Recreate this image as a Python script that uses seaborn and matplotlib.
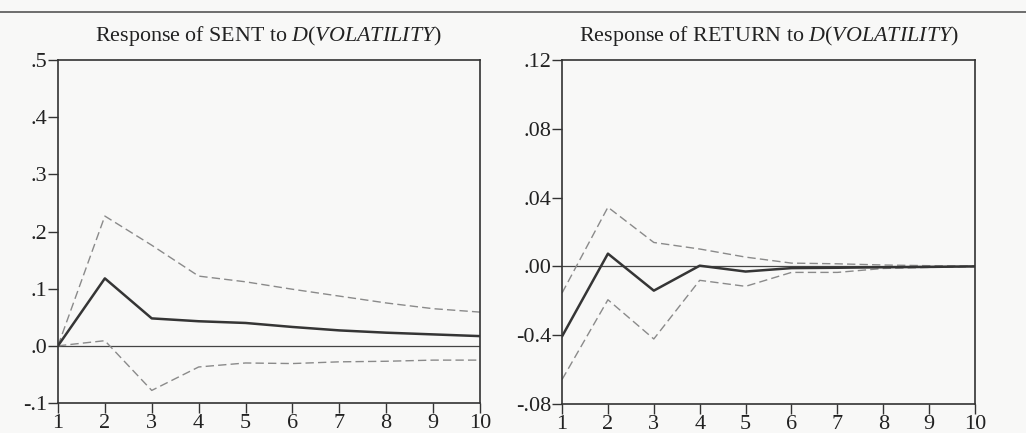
import numpy as np
import pandas as pd
import matplotlib
matplotlib.use("Agg")
import matplotlib.pyplot as plt
from matplotlib.lines import Line2D
import seaborn as sns

periods = list(range(1, 11))

sent_resp = [0.0, 0.118, 0.048, 0.043, 0.040, 0.033, 0.027, 0.023, 0.020, 0.017]
sent_upper = [0.0, 0.227, 0.176, 0.122, 0.112, 0.099, 0.087, 0.075, 0.065, 0.059]
sent_lower = [0.0, 0.009, -0.078, -0.037, -0.030, -0.031, -0.028, -0.027, -0.025, -0.025]

ret_resp = [-0.0407, 0.0074, -0.0141, 0.0004, -0.0030, -0.0010, -0.0008, -0.0005, -0.0003, 0.0]
ret_upper = [-0.0155, 0.0344, 0.0139, 0.0101, 0.0054, 0.0019, 0.0015, 0.0008, 0.0004, 0.0002]
ret_lower = [-0.0658, -0.0194, -0.0422, -0.0081, -0.0116, -0.0035, -0.0035, -0.0012, -0.0006, -0.0002]

sent_yticks = [-0.1, 0.0, 0.1, 0.2, 0.3, 0.4, 0.5]
sent_ylabels = ["-.1", ".0", ".1", ".2", ".3", ".4", ".5"]
ret_yticks = [-0.08, -0.04, 0.0, 0.04, 0.08, 0.12]
ret_ylabels = ["-.08", "-0.4", ".00", ".04", ".08", ".12"]

titles = ["Response of SENT to $\\mathit{D(VOLATILITY)}$",
          "Response of RETURN to $\\mathit{D(VOLATILITY)}$"]

sns.set_theme(style="ticks")
plt.rcParams["font.family"] = ["Liberation Serif", "DejaVu Serif"]
plt.rcParams["mathtext.fontset"] = "custom"
plt.rcParams["mathtext.rm"] = "Liberation Serif"
plt.rcParams["mathtext.it"] = "Liberation Serif:italic"

bg = "#f8f8f7"
fig = plt.figure(figsize=(10.26, 4.33), dpi=100, facecolor=bg)

ax1 = fig.add_axes([0.0565, 0.0693, 0.4113, 0.7921])
ax2 = fig.add_axes([0.5478, 0.0670, 0.4025, 0.7945])

panels = [
    (ax1, sent_resp, sent_upper, sent_lower, sent_yticks, sent_ylabels, (-0.1, 0.5), titles[0]),
    (ax2, ret_resp, ret_upper, ret_lower, ret_yticks, ret_ylabels, (-0.08, 0.12), titles[1]),
]

for ax, resp, up, lo, yt, yl, ylim, title in panels:
    ax.set_facecolor(bg)
    df = pd.DataFrame({"period": periods, "resp": resp, "upper": up, "lower": lo})
    ax.axhline(0, color="#444444", lw=0.9, zorder=1)
    sns.lineplot(data=df, x="period", y="upper", ax=ax, color="#8a8a8a", lw=1.0,
                 linestyle=(0, (6, 3)), zorder=2)
    sns.lineplot(data=df, x="period", y="lower", ax=ax, color="#8a8a8a", lw=1.0,
                 linestyle=(0, (6, 3)), zorder=2)
    sns.lineplot(data=df, x="period", y="resp", ax=ax, color="#353535", lw=1.8, zorder=3)
    ax.set_xlim(1, 10)
    ax.set_ylim(*ylim)
    ax.set_xticks(periods)
    ax.set_xticklabels([str(p) for p in periods])
    ax.set_yticks(yt)
    ax.set_yticklabels(yl)
    ax.set_xlabel("")
    ax.set_ylabel("")
    ax.tick_params(axis="both", direction="out", length=7, width=1.0, color="#333333",
                   labelsize=16, labelcolor="#222222", pad=1)
    for s in ax.spines.values():
        s.set_visible(True)
        s.set_color("#333333")
        s.set_linewidth(1.2)
    ax.set_title(title, fontsize=15.8, color="#222222", pad=14)

fig.add_artist(Line2D([0, 1], [1 - 12 / 433, 1 - 12 / 433], transform=fig.transFigure,
                      color="#555555", lw=1.2))

fig.savefig("out.png", dpi=100, facecolor=bg)
